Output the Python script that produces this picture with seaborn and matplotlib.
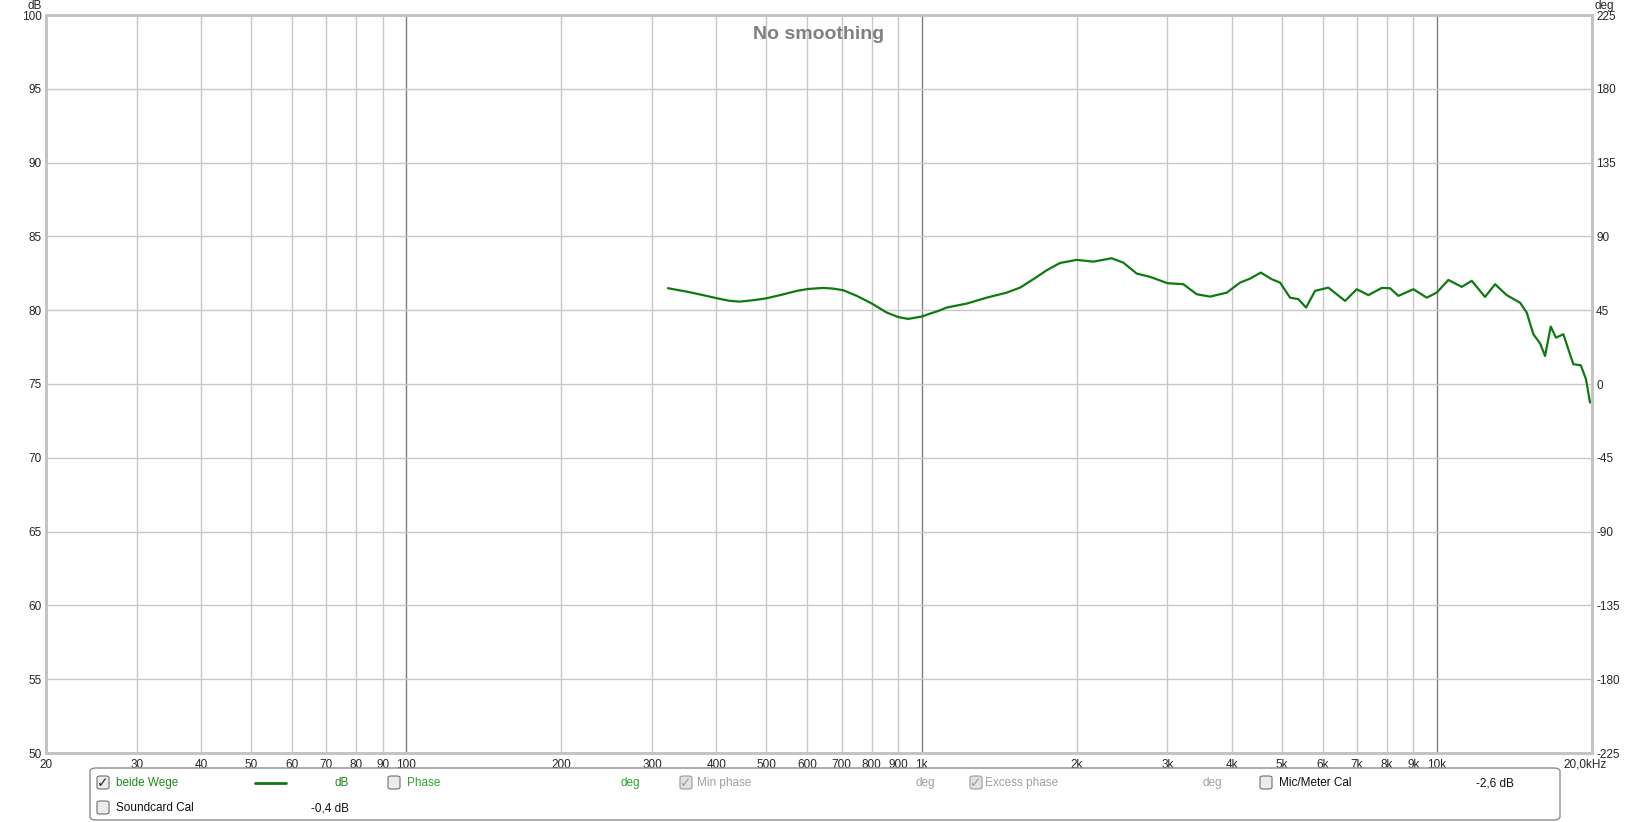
"""Frequenzgang 'beide Wege' im Stil eines REW-Screenshots."""

import pandas as pd
import seaborn as sns
import matplotlib.pyplot as plt
import matplotlib.transforms as mtransforms
from matplotlib.patches import FancyBboxPatch
from matplotlib.lines import Line2D

# Messpunkte
freq_hz = [322, 350, 377, 403, 425, 444, 472, 501, 540, 573, 603, 645, 675,
           705, 749, 801, 856, 902, 942, 1001, 1039, 1078, 1119, 1224, 1338,
           1463, 1553, 1648, 1750, 1857, 2000, 2155, 2339, 2464, 2616, 2776,
           3000, 3222, 3420, 3631, 3911, 4151, 4341, 4552, 4781, 4963, 5189,
           5385, 5574, 5803, 6158, 6636, 6992, 7365, 7816, 8113, 8420, 9005,
           9559, 10000, 10527, 11177, 11687, 12401, 12969, 13664, 14500,
           14940, 15391, 15855, 16214, 16633, 17029, 17596, 18400, 19020,
           19472, 19825]
spl_db = [81.49, 81.26, 81.02, 80.79, 80.63, 80.58, 80.68, 80.81, 81.08, 81.31,
          81.44, 81.51, 81.46, 81.35, 80.97, 80.45, 79.84, 79.53, 79.41, 79.57,
          79.77, 79.95, 80.18, 80.45, 80.85, 81.19, 81.53, 82.10, 82.71, 83.20,
          83.41, 83.29, 83.52, 83.22, 82.48, 82.26, 81.83, 81.76, 81.08, 80.92,
          81.19, 81.87, 82.14, 82.55, 82.10, 81.87, 80.85, 80.75, 80.18, 81.31,
          81.53, 80.63, 81.42, 81.02, 81.51, 81.49, 80.97, 81.42, 80.85, 81.20,
          82.05, 81.58, 81.99, 80.90, 81.76, 81.02, 80.51, 79.84, 78.37, 77.76,
          76.90, 78.89, 78.14, 78.37, 76.34, 76.27, 75.32, 73.74]

x_ticks = [20, 30, 40, 50, 60, 70, 80, 90, 100, 200, 300, 400, 500, 600, 700,
           800, 900, 1000, 2000, 3000, 4000, 5000, 6000, 7000, 8000, 9000,
           10000, 20000]
x_labels = ['20', '30', '40', '50', '60', '70', '80', '90', '100', '200', '300',
            '400', '500', '600', '700', '800', '900', '1k', '2k', '3k', '4k',
            '5k', '6k', '7k', '8k', '9k', '10k', '20,0kHz']
db_ticks = [50, 55, 60, 65, 70, 75, 80, 85, 90, 95, 100]
deg_ticks = [-225, -180, -135, -90, -45, 0, 45, 90, 135, 180, 225]

sns.set_style('white')
plt.rcParams['font.family'] = ['Liberation Sans', 'DejaVu Sans']

df = pd.DataFrame({'freq': freq_hz, 'spl': spl_db})

W, H = 1649, 822
fig = plt.figure(figsize=(W / 100, H / 100), dpi=100)
ax = fig.add_axes([46 / W, 1 - 753 / H, 1546 / W, 738 / H])

sns.lineplot(data=df, x='freq', y='spl', ax=ax, color='#0f7a0f', linewidth=1.6)

ax.set_xscale('log')
ax.set_xlim(20, 20000)
ax.set_ylim(50, 100)
ax.minorticks_off()

# Gitter: Dekaden dunkler
for f in x_ticks[1:-1]:
    dark = f in (100, 1000, 10000)
    ax.axvline(f, color='#7f7f7f' if dark else '#c8c8c8', lw=1.0, zorder=0)
for d in db_ticks[1:-1]:
    ax.axhline(d, color='#c8c8c8', lw=1.0, zorder=0)

ax.set_xticks(x_ticks)
ax.set_xticklabels(x_labels, fontsize=8.5)
ax.set_yticks(db_ticks)
ax.set_yticklabels([str(v) for v in db_ticks], fontsize=8.5)
ax.tick_params(axis='both', length=0, pad=3)
ax.tick_params(axis='x', pad=4)
ax.set_xlabel('')
ax.set_ylabel('')
# letztes Label etwas nach links
last = ax.get_xticklabels()[-1]
last.set_transform(last.get_transform() +
                   mtransforms.ScaledTranslation(-0.07, 0, fig.dpi_scale_trans))

for s in ax.spines.values():
    s.set_color('#c4c4c4')
    s.set_linewidth(2.2)

ax2 = ax.twinx()
ax2.set_ylim(-225, 225)
ax2.set_yticks(deg_ticks)
ax2.set_yticklabels([str(v) for v in deg_ticks], fontsize=8.5)
ax2.tick_params(axis='y', length=0, pad=3)
for s in ax2.spines.values():
    s.set_visible(False)

fig.text(42 / W, 1 - 6 / H, 'dB', ha='right', va='center', fontsize=8.5)
fig.text(1595 / W, 1 - 6 / H, 'deg', ha='left', va='center', fontsize=8.5)
ax.text(0.5, 0.985, 'No smoothing', transform=ax.transAxes, ha='center',
        va='top', fontsize=14, fontweight='bold', color='#808080')

# Legende unten als Kasten
box = FancyBboxPatch((90 / W, 1 - 820 / H), 1470 / W, 52 / H,
                     boxstyle='round,pad=0,rounding_size=0.004',
                     transform=fig.transFigure, facecolor='white',
                     edgecolor='#8c8c8c', linewidth=1.0)
fig.patches.append(box)


def checkbox(x, y, checked, grey=False):
    cb = FancyBboxPatch((x / W, 1 - (y + 6) / H), 12 / W, 13 / H,
                        boxstyle='round,pad=0,rounding_size=0.002',
                        transform=fig.transFigure,
                        facecolor='#e2e2e2' if grey else '#ececec',
                        edgecolor='#9a9a9a' if grey else '#6f6f6f', linewidth=0.8)
    fig.patches.append(cb)
    if checked:
        fig.text((x + 6) / W, 1 - y / H, '\u2713', ha='center', va='center',
                 fontsize=10, family='DejaVu Sans',
                 color='#9a9a9a' if grey else '#222222', fontweight='bold')


def label(x, y, txt, color, ha='left'):
    fig.text(x / W, 1 - y / H, txt, ha=ha, va='center', fontsize=8.5,
             color=color)


r1, r2 = 783, 808
checkbox(97, r1, True)
label(116, r1, 'beide Wege', '#1a8a1a')
fig.lines.append(Line2D([255 / W, 286 / W], [1 - r1 / H, 1 - r1 / H],
                        transform=fig.transFigure, color='#0f7a0f', lw=2.0))
label(349, r1, 'dB', '#1a8a1a', ha='right')
checkbox(388, r1, False)
label(407, r1, 'Phase', '#2aa52a')
label(640, r1, 'deg', '#2aa52a', ha='right')
checkbox(680, r1, True, grey=True)
label(697, r1, 'Min phase', '#a0a0a0')
label(935, r1, 'deg', '#a0a0a0', ha='right')
checkbox(970, r1, True, grey=True)
label(985, r1, 'Excess phase', '#a0a0a0')
label(1222, r1, 'deg', '#a0a0a0', ha='right')
checkbox(1260, r1, False)
label(1279, r1, 'Mic/Meter Cal', '#111111')
label(1514, r1, '-2,6 dB', '#111111', ha='right')
checkbox(97, r2, False)
label(116, r2, 'Soundcard Cal', '#111111')
label(349, r2, '-0,4 dB', '#111111', ha='right')

fig.savefig('out.png', dpi=100)
